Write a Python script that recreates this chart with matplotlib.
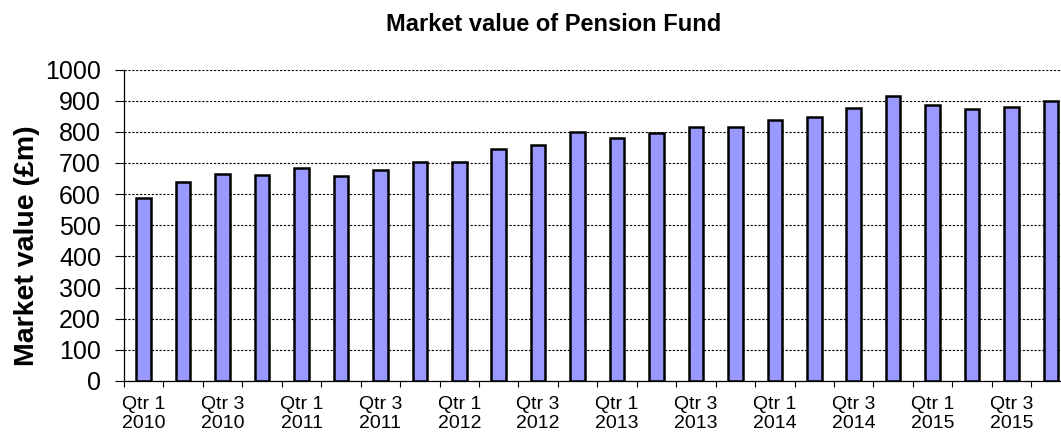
import matplotlib
matplotlib.use("Agg")
import matplotlib.pyplot as plt
import numpy as np

quarters = ["Qtr 1", "Qtr 2", "Qtr 3", "Qtr 4"]
years = [2010, 2011, 2012, 2013, 2014, 2015]
categories = [f"{q}\n{y}" for y in years for q in quarters]
values = [589, 638, 665, 662, 685, 658, 677, 704, 704, 746, 757, 799,
          780, 795, 814, 817, 837, 849, 875, 914, 886, 872, 879, 899]
yticks = [0, 100, 200, 300, 400, 500, 600, 700, 800, 900, 1000]

plt.rcParams['font.family'] = ['Liberation Sans', 'DejaVu Sans']

W, H = 1061, 432
fig = plt.figure(figsize=(W / 100, H / 100), dpi=100)
ax = fig.add_axes([124 / W, 51 / H, 946.7 / W, 311.5 / H])

x = np.arange(len(values))
ax.bar(x, values, width=0.37, color="#9999FF", edgecolor="black",
       linewidth=1.8, zorder=3)

ax.set_xlim(-0.5, len(values) - 0.5)
ax.set_ylim(0, 1000)
ax.set_yticks(yticks)
ax.set_yticklabels([str(v) for v in yticks], fontsize=18)

ax.set_xticks(x[::2])
ax.set_xticklabels(categories[::2], fontsize=14, linespacing=1.15)
ax.set_xticks(np.arange(len(values) + 1) - 0.5, minor=True)
ax.tick_params(axis="x", which="major", length=0, pad=11)
ax.tick_params(axis="x", which="minor", length=4.5, width=0.8, color="black")
ax.tick_params(axis="y", length=6.5, width=0.8, pad=10, colors="black")

ax.grid(axis="y", color="black", linestyle=(0, (2, 1.5)), linewidth=0.8, zorder=0)
ax.set_axisbelow(True)

for s in ["top", "right"]:
    ax.spines[s].set_visible(False)
for s in ["left", "bottom"]:
    ax.spines[s].set_color("black")
    ax.spines[s].set_linewidth(0.9)
    ax.spines[s].set_zorder(4)

ax.set_ylabel("Market value (£m)", fontsize=20.5, fontweight="bold")
ax.yaxis.label.set_va("center")
ax.yaxis.set_label_coords((27 - 124) / 946.7, 0.433)

ax.set_title("Market value of Pension Fund", fontsize=17, fontweight="bold",
             x=(554 - 124) / 946.7, y=(381 - 31) / 311.5, va="baseline", pad=0)

fig.savefig("out.png", dpi=100)
